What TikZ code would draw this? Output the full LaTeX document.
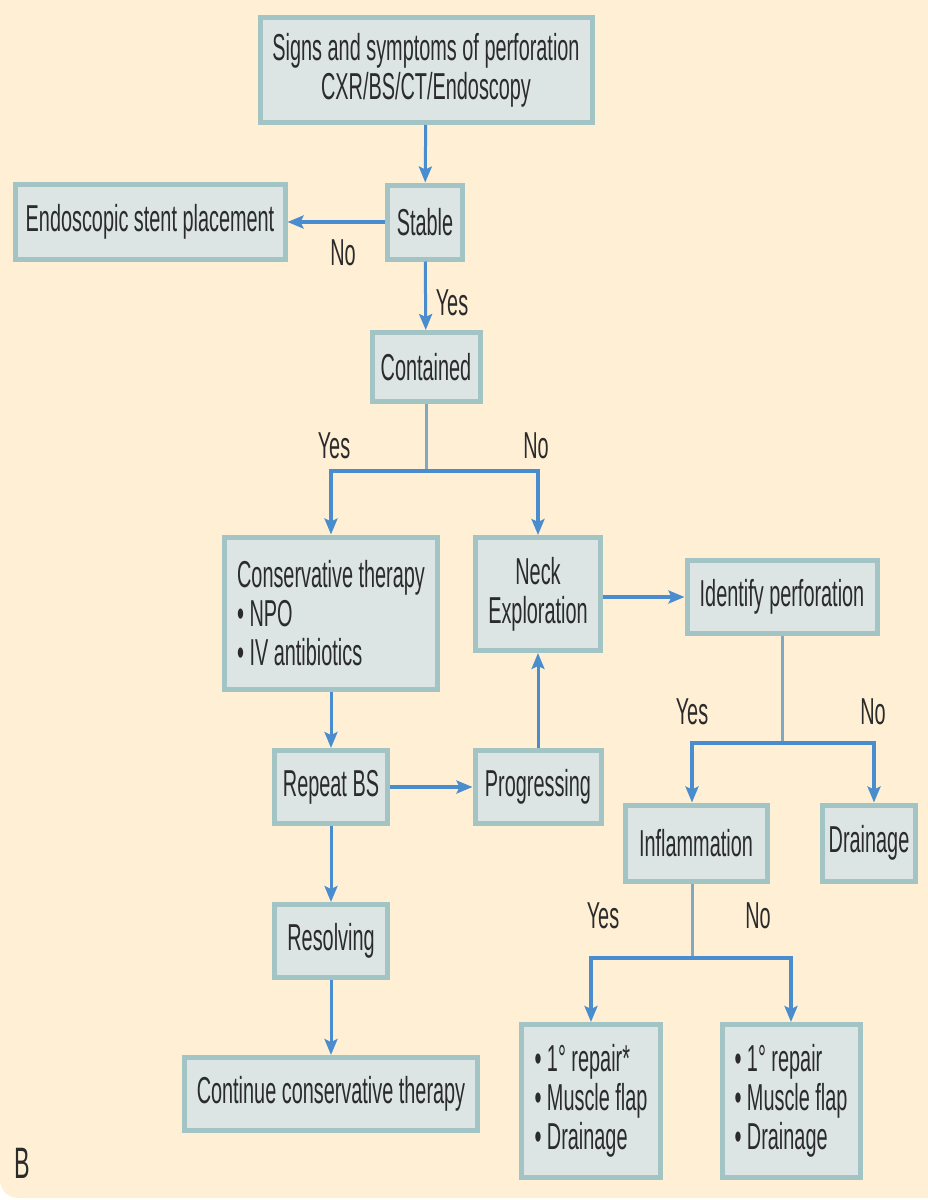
\documentclass[tikz,border=0pt]{standalone}
\usepackage{fontspec}
\setmainfont{Liberation Sans}[FakeStretch=0.53]
\usetikzlibrary{arrows.meta}
\definecolor{paper}{HTML}{FFF0D5}
\definecolor{boxfill}{HTML}{DCE4E4}
\definecolor{boxedge}{HTML}{A2C4C4}
\definecolor{flow}{HTML}{4A8DCF}
\definecolor{stem}{HTML}{7FA9C3}
\definecolor{ink}{HTML}{2B2B2B}

\begin{document}
\begin{tikzpicture}[x=1pt,y=-1pt,
    box/.style={draw=boxedge,fill=boxfill,line width=5pt,inner sep=0pt,align=center,
      text=ink,font=\fontsize{37.5}{39}\selectfont},
    lab/.style={text=ink,font=\fontsize{37.5}{39}\selectfont,inner sep=0pt},
    flowarrow/.style={draw=flow,line width=4pt,-{Stealth[length=16pt,width=13pt,inset=3pt]}},
    thinarrow/.style={flowarrow,line width=3pt},
    stemline/.style={draw=stem,line width=3pt}]
    % paper
    \useasboundingbox (0,0) rectangle (928,1200);
    \fill[paper] (928,0) -- (0,0) [rounded corners=18pt] -- (0,1198) [sharp corners] -- (928,1198) -- cycle;

    % top part
    \node[box,minimum width=332pt,minimum height=105pt] (signs) at (426,70) {Signs and symptoms of perforation\\CXR/BS/CT/Endoscopy};
    \node[box,minimum width=75pt,minimum height=74pt] (stable) at (425,222) {Stable};
    \node[box,minimum width=270pt,minimum height=75pt] (stent) at (150,222) {Endoscopic stent placement};
    \node[box,minimum width=108pt,minimum height=69pt] (contained) at (426,367) {Contained};

    % left branch
    \node[box,minimum width=213pt,minimum height=152pt,align=left] (conserv) at (331,613) {Conservative therapy\\\textbullet\ NPO\\\textbullet\ IV antibiotics};
    \node[box,minimum width=113pt,minimum height=73pt] (repeat) at (331,787) {Repeat BS};
    \node[box,minimum width=113pt,minimum height=73pt] (resolving) at (331,941) {Resolving};
    \node[box,minimum width=293pt,minimum height=73pt] (continue) at (331,1094) {Continue conservative therapy};

    % right branch
    \node[box,minimum width=125pt,minimum height=113pt] (neck) at (538,594) {Neck\\Exploration};
    \node[box,minimum width=126pt,minimum height=73pt] (progress) at (538,787) {Progressing};
    \node[box,minimum width=190pt,minimum height=73pt] (identify) at (782,597) {Identify perforation};
    \node[box,minimum width=142pt,minimum height=76pt] (inflam) at (696,843) {Inflammation};
    \node[box,minimum width=93pt,minimum height=76pt] (drainage) at (869,843) {Drainage};
    \node[box,minimum width=139pt,minimum height=153pt,align=left] (repairA) at (591,1101) {\textbullet\ 1° repair*\\\textbullet\ Muscle flap\\\textbullet\ Drainage};
    \node[box,minimum width=138pt,minimum height=153pt,align=left] (repairB) at (791,1101) {\textbullet\ 1° repair\\\textbullet\ Muscle flap\\\textbullet\ Drainage};

    % split points
    \coordinate (splitA) at (426,471);
    \coordinate (splitB) at (782,743);
    \coordinate (splitC) at (692,958);

    % connectors
    \draw[thinarrow] (signs) -- (stable);
    \draw[flowarrow] (stable) -- (stent);
    \draw[thinarrow] (stable) -- (contained);
    \draw[stemline] (contained) -- (splitA);
    \draw[flowarrow] (splitA) -| (conserv);
    \draw[flowarrow] (splitA) -| (neck);
    \draw[thinarrow] (conserv) -- (repeat);
    \draw[flowarrow] (repeat) -- (progress);
    \draw[thinarrow] (progress) -- (neck);
    \draw[thinarrow] (repeat) -- (resolving);
    \draw[thinarrow] (resolving) -- (continue);
    \draw[flowarrow] (neck.east |- identify) -- (identify);
    \draw[stemline] (identify) -- (splitB);
    \draw[flowarrow] (splitB) -| ([xshift=-4pt]inflam.north);
    \draw[flowarrow] (splitB) -| ([xshift=5pt]drainage.north);
    \draw[stemline] ([xshift=-4pt]inflam.south) -- (splitC);
    \draw[flowarrow] (splitC) -| (repairA);
    \draw[flowarrow] (splitC) -| (repairB);

    % yes / no
    \node[lab] (noStable) at (343,253) {No};
    \node[lab] (yesStable) at (452,303) {Yes};
    \node[lab] (yesContained) at (334,446) {Yes};
    \node[lab] (noContained) at (536,446) {No};
    \node[lab] (yesIdentify) at (692,712) {Yes};
    \node[lab] (noIdentify) at (873,712) {No};
    \node[lab] (yesInflam) at (603,916) {Yes};
    \node[lab] (noInflam) at (758,916) {No};

    \node[lab,font=\fontsize{44}{44}\selectfont] (panel) at (22,1163) {B};
\end{tikzpicture}
\end{document}
